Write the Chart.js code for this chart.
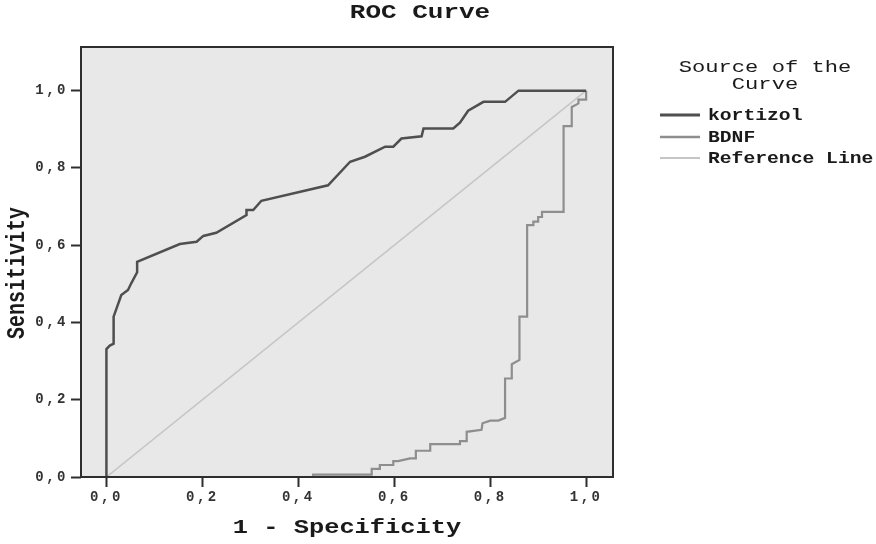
<!DOCTYPE html>
<html>
<head>
<meta charset="utf-8">
<script src="https://cdn.jsdelivr.net/npm/chart.js@4.4.1/dist/chart.umd.min.js"></script>
<style>
  html, body { margin: 0; padding: 0; background: #fff; }
  #roc { display: block; }
</style>
</head>
<body>
<canvas id="roc" width="876" height="544"></canvas>
<script>
// ROC points (x = 1 - specificity, y = sensitivity)
const kortizolX = [0, 0, 0.007, 0.015, 0.015, 0.031, 0.045, 0.052, 0.064, 0.064, 0.153, 0.188, 0.202, 0.229, 0.292, 0.292, 0.306, 0.323, 0.462, 0.508, 0.539, 0.581, 0.598, 0.615, 0.657, 0.661, 0.723, 0.737, 0.754, 0.786, 0.831, 0.859, 1.0];
const kortizolY = [0, 0.331, 0.340, 0.345, 0.415, 0.471, 0.484, 0.502, 0.530, 0.557, 0.603, 0.609, 0.624, 0.632, 0.678, 0.691, 0.691, 0.715, 0.755, 0.816, 0.829, 0.855, 0.855, 0.876, 0.882, 0.902, 0.902, 0.917, 0.948, 0.971, 0.971, 1.0, 1.0];

const bdnfX = [0, 0.431, 0.431, 0.553, 0.553, 0.570, 0.570, 0.598, 0.598, 0.608, 0.633, 0.645, 0.645, 0.675, 0.675, 0.737, 0.737, 0.751, 0.751, 0.782, 0.784, 0.800, 0.817, 0.831, 0.831, 0.845, 0.845, 0.861, 0.861, 0.877, 0.877, 0.890, 0.890, 0.900, 0.900, 0.908, 0.908, 0.953, 0.953, 0.970, 0.970, 0.977, 0.984, 0.984, 1.0, 1.0];
const bdnfY = [0, 0, 0.006, 0.006, 0.021, 0.021, 0.031, 0.031, 0.041, 0.041, 0.048, 0.048, 0.068, 0.068, 0.085, 0.085, 0.093, 0.093, 0.117, 0.122, 0.139, 0.146, 0.146, 0.153, 0.255, 0.255, 0.292, 0.303, 0.415, 0.415, 0.652, 0.652, 0.661, 0.661, 0.673, 0.673, 0.686, 0.686, 0.908, 0.908, 0.958, 0.962, 0.967, 0.977, 0.977, 1.0];

const refX = [0, 1];
const refY = [0, 1];

const tickValues = [0, 0.2, 0.4, 0.6, 0.8, 1.0];
const seriesNames = ['kortizol', 'BDNF', 'Reference Line'];
const seriesColors = ['#4f4f4f', '#8e8e8e', '#c6c6c6'];
const seriesWidths = [2.5, 2.2, 1.6];

const FONT = "'Liberation Mono', 'Courier New', monospace";

function toPoints(xs, ys) {
    return xs.map((x, i) => ({ x: x, y: ys[i] }));
}

function fmt(v) {
    return v.toFixed(1).replace('.', ',');
}

// draws a text stretched horizontally, like the scanned SPSS output
function stretchedText(ctx, text, x, y, font, sx, rotate) {
    ctx.save();
    ctx.font = font;
    ctx.fillStyle = '#1a1a1a';
    ctx.textAlign = 'center';
    ctx.textBaseline = 'middle';
    ctx.translate(x, y);
    ctx.scale(sx, 1);
    if (rotate) ctx.rotate(-Math.PI / 2);
    ctx.fillText(text, 0, 0);
    ctx.restore();
}

const rocFrame = {
    id: 'rocFrame',
    beforeDraw(chart) {
        const { ctx, chartArea: a } = chart;
        ctx.save();
        ctx.fillStyle = '#e8e8e8';
        ctx.fillRect(a.left, a.top, a.right - a.left, a.bottom - a.top);
        ctx.restore();
        // spacing for tick labels drawn by the scales
        ctx.letterSpacing = '2.5px';
    },
    afterDatasetsDraw(chart) {
        const { ctx, chartArea: a } = chart;
        ctx.save();
        ctx.strokeStyle = '#2e2e2e';
        ctx.lineWidth = 2;
        ctx.strokeRect(a.left, a.top, a.right - a.left, a.bottom - a.top);
        ctx.restore();
    },
    afterDraw(chart) {
        const ctx = chart.ctx;
        ctx.letterSpacing = '0px';
        const a = chart.chartArea;

        stretchedText(ctx, 'ROC Curve', 420, 13, 'bold 20px ' + FONT, 1.3);
        stretchedText(ctx, '1 - Specificity', (a.left + a.right) / 2, 528, 'bold 20px ' + FONT, 1.27);
        stretchedText(ctx, 'Sensitivity', 18, 273, 'bold 20px ' + FONT, 1.25, true);

        // legend
        stretchedText(ctx, 'Source of the', 765, 67, '17px ' + FONT, 1.3);
        stretchedText(ctx, 'Curve', 765, 84, '17px ' + FONT, 1.3);

        const rows = [115, 137, 158];
        seriesNames.forEach((name, i) => {
            ctx.save();
            ctx.strokeStyle = seriesColors[i];
            ctx.lineWidth = seriesWidths[i] + 0.5;
            ctx.beginPath();
            ctx.moveTo(660, rows[i]);
            ctx.lineTo(700, rows[i]);
            ctx.stroke();
            ctx.restore();

            ctx.save();
            ctx.font = 'bold 16px ' + FONT;
            ctx.fillStyle = '#1a1a1a';
            ctx.textAlign = 'left';
            ctx.textBaseline = 'middle';
            ctx.translate(708, rows[i] + 1);
            ctx.scale(1.23, 1);
            ctx.fillText(name, 0, 0);
            ctx.restore();
        });
    }
};

const tickFont = { family: FONT, size: 14, weight: 'bold' };

new Chart(document.getElementById('roc'), {
    type: 'line',
    data: {
        datasets: [
            {
                label: seriesNames[0],
                data: toPoints(kortizolX, kortizolY),
                borderColor: seriesColors[0],
                borderWidth: seriesWidths[0]
            },
            {
                label: seriesNames[1],
                data: toPoints(bdnfX, bdnfY),
                borderColor: seriesColors[1],
                borderWidth: seriesWidths[1]
            },
            {
                label: seriesNames[2],
                data: toPoints(refX, refY),
                borderColor: seriesColors[2],
                borderWidth: seriesWidths[2]
            }
        ]
    },
    options: {
        responsive: false,
        devicePixelRatio: 1,
        animation: false,
        parsing: false,
        elements: {
            point: { radius: 0 },
            line: { tension: 0, fill: false, borderJoinStyle: 'miter' }
        },
        layout: {
            padding: { top: 47, right: 263, bottom: 0, left: 0 }
        },
        plugins: {
            legend: { display: false },
            title: { display: false },
            tooltip: { enabled: false }
        },
        scales: {
            x: {
                type: 'linear',
                min: -0.053,
                max: 1.056,
                afterBuildTicks: (scale) => {
                    scale.ticks = tickValues.map(v => ({ value: v }));
                },
                afterFit: (scale) => { scale.height = 67; },
                grid: {
                    drawOnChartArea: false,
                    drawTicks: true,
                    tickLength: 10,
                    tickColor: '#2e2e2e',
                    tickWidth: 2
                },
                border: { display: false },
                ticks: {
                    autoSkip: false,
                    maxRotation: 0,
                    padding: 2,
                    color: '#333',
                    font: tickFont,
                    callback: (v) => fmt(v)
                }
            },
            y: {
                type: 'linear',
                min: 0,
                max: 1.113,
                afterBuildTicks: (scale) => {
                    scale.ticks = tickValues.map(v => ({ value: v }));
                },
                afterFit: (scale) => { scale.width = 81; },
                grid: {
                    drawOnChartArea: false,
                    drawTicks: true,
                    tickLength: 10,
                    tickColor: '#2e2e2e',
                    tickWidth: 2
                },
                border: { display: false },
                ticks: {
                    autoSkip: false,
                    padding: 3,
                    color: '#333',
                    font: tickFont,
                    callback: (v) => fmt(v)
                }
            }
        }
    },
    plugins: [rocFrame]
});
</script>
</body>
</html>
